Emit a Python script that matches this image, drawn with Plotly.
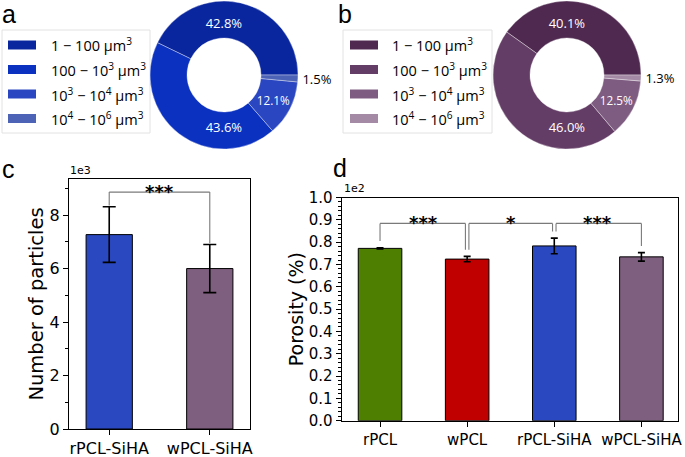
import plotly.graph_objects as go

# ---------------- data ----------------
size_classes = ["1 − 100 μm<sup>3</sup>",
                "100 − 10<sup>3</sup> μm<sup>3</sup>",
                "10<sup>3</sup> − 10<sup>4</sup> μm<sup>3</sup>",
                "10<sup>4</sup> − 10<sup>6</sup> μm<sup>3</sup>"]
pct_rpcl_siha = [42.8, 43.6, 12.1, 1.5]
pct_wpcl_siha = [40.1, 46.0, 12.5, 1.3]
colors_blue = ["#0a269e", "#0b31c0", "#2b46c1", "#4d64b6"]
colors_purple = ["#4f2950", "#643d66", "#7e5b80", "#a48aa5"]

particle_groups = ["rPCL-SiHA", "wPCL-SiHA"]
particle_mean = [7.27, 6.00]      # x 1e3
particle_err = [1.04, 0.90]
particle_colors = ["#2a48c0", "#7f5f7f"]
particle_sig = [(0, 1, "***", 8.86)]

porosity_groups = ["rPCL", "wPCL", "rPCL-SiHA", "wPCL-SiHA"]
porosity_mean = [0.772, 0.724, 0.783, 0.734]   # x 1e2
porosity_err = [0.003, 0.012, 0.035, 0.019]
porosity_colors = ["#4f7f00", "#c00000", "#2a48c0", "#7f5f7f"]
porosity_sig = [(0, 1, "***", 0.884), (1, 2, "*", 0.884), (2, 3, "***", 0.884)]

# ---------------- helpers ----------------
W, H = 685, 457
def fx(px): return px / W
def fy(py): return 1 - py / H

TICK_FONT = "DejaVu Sans"
PIE_FONT = "Open Sans"

fig = go.Figure()

# ---------------- donuts ----------------
# first slice starts at 3 o'clock and runs counterclockwise (plotly's rotation
# marks the clockwise-most edge of the first slice in counterclockwise mode)
for vals, cols, (x0, x1) in [(pct_rpcl_siha, colors_blue, (150, 298)),
                             (pct_wpcl_siha, colors_purple, (493, 641))]:
    rot = 90 - 360 * vals[0] / sum(vals)
    fig.add_trace(go.Pie(
        values=vals, labels=size_classes, hole=0.5, sort=False,
        direction="counterclockwise", rotation=rot,
        marker=dict(colors=cols, line=dict(color="rgba(255,255,255,0.6)", width=0.6)),
        texttemplate="%{value:.1f}%",
        textposition=["inside", "inside", "inside", "outside"],
        insidetextorientation="horizontal",
        insidetextfont=dict(family=PIE_FONT, size=13, color="white"),
        outsidetextfont=dict(family=PIE_FONT, size=13, color="black"),
        domain=dict(x=[fx(x0), fx(x1)], y=[fy(149), fy(1)]),
        showlegend=False, hoverinfo="label+percent"))

# manual legends
shapes = []
annotations = []
for cols, (bx0, bx1, sx0, sx1, tx) in [(colors_blue, (2, 150, 8, 36, 49)),
                                       (colors_purple, (343, 492, 350, 378, 390))]:
    shapes.append(dict(type="rect", xref="paper", yref="paper",
                       x0=fx(bx0), x1=fx(bx1), y0=fy(133), y1=fy(30),
                       line=dict(color="#e2e2e2", width=1), fillcolor="white", layer="below"))
    for i, (lab, c) in enumerate(zip(size_classes, cols)):
        yc = 45 + 24.5 * i
        shapes.append(dict(type="rect", xref="paper", yref="paper",
                           x0=fx(sx0), x1=fx(sx1), y0=fy(yc + 4.5), y1=fy(yc - 4.5),
                           line=dict(width=0), fillcolor=c))
        annotations.append(dict(text=lab, xref="paper", yref="paper", x=fx(tx), y=fy(yc),
                                xanchor="left", yanchor="middle", showarrow=False,
                                font=dict(family=PIE_FONT, size=14.5, color="black")))

# ---------------- panel c ----------------
fig.add_trace(go.Bar(
    x=particle_groups, y=particle_mean, width=0.46,
    marker=dict(color=particle_colors, line=dict(color="black", width=1)),
    error_y=dict(type="data", array=particle_err, color="black", thickness=1.6, width=6.5),
    xaxis="x", yaxis="y", showlegend=False))

# ---------------- panel d ----------------
fig.add_trace(go.Bar(
    x=porosity_groups, y=porosity_mean, width=0.5,
    marker=dict(color=porosity_colors, line=dict(color="black", width=1)),
    error_y=dict(type="data", array=porosity_err, color="black", thickness=1.6, width=3.5),
    xaxis="x2", yaxis="y2", showlegend=False))

# significance brackets
def add_brackets(sig, means, errs, xr, yr, leg_gap, offset, star_size, yshift):
    for (i, j, lab, yb) in sig:
        xi = i + (offset if any(s[1] == i for s in sig) else 0)
        xj = j - (offset if any(s[0] == j for s in sig) else 0)
        yi = means[i] + errs[i] + leg_gap
        yj = means[j] + errs[j] + leg_gap
        for (xa, ya, xb, yb2) in [(xi, yi, xi, yb), (xi, yb, xj, yb), (xj, yb, xj, yj)]:
            shapes.append(dict(type="line", xref=xr, yref=yr, x0=xa, y0=ya, x1=xb, y1=yb2,
                               line=dict(color="#7a7a7a", width=1.1)))
        annotations.append(dict(text="<b>" + lab + "</b>", xref=xr, yref=yr, x=(i + j) / 2, y=yb,
                                xanchor="center", yanchor="middle", yshift=yshift,
                                showarrow=False,
                                font=dict(family=TICK_FONT, size=star_size, color="black")))

add_brackets(particle_sig, particle_mean, particle_err, "x", "y", 0.05, 0.0, 18, 1)
add_brackets(porosity_sig, porosity_mean, porosity_err, "x2", "y2", 0.03, 0.02, 18, 1)

# offset texts
annotations.append(dict(text="1e3", xref="paper", yref="paper", x=fx(68), y=fy(179),
                        xanchor="left", yanchor="bottom", showarrow=False,
                        font=dict(family=TICK_FONT, size=11, color="black")))
annotations.append(dict(text="1e2", xref="paper", yref="paper", x=fx(342), y=fy(197),
                        xanchor="left", yanchor="bottom", showarrow=False,
                        font=dict(family=TICK_FONT, size=11, color="black")))

# panel letters
for lab, px, py in [("a", 0, 14), ("b", 336, 14), ("c", 0, 169), ("d", 331, 168)]:
    annotations.append(dict(text=lab, xref="paper", yref="paper", x=fx(px), y=fy(py),
                            xanchor="left", yanchor="middle", showarrow=False,
                            font=dict(family="Liberation Sans", size=25, color="black")))

axis_common = dict(showline=True, mirror=True, linecolor="black", linewidth=1.2,
                   ticks="outside", tickcolor="black", ticklen=5, tickwidth=1,
                   showgrid=False, zeroline=False, automargin=False)

fig.update_layout(
    template="none",
    width=W, height=H, margin=dict(l=0, r=0, t=0, b=0, autoexpand=False),
    paper_bgcolor="white", plot_bgcolor="white",
    font=dict(family=TICK_FONT, color="black"),
    shapes=shapes, annotations=annotations,
    xaxis=dict(domain=[fx(69), fx(250)], anchor="y", range=[-0.4, 1.4],
               tickfont=dict(size=16), **axis_common),
    yaxis=dict(domain=[fy(429), fy(179)], anchor="x", range=[0, 9.35],
               dtick=2, tickfont=dict(size=16),
               minor=dict(dtick=1, ticklen=3, ticks="outside", tickcolor="black"),
               title=dict(text="Number of particles", font=dict(size=19.5), standoff=0),
               **axis_common),
    xaxis2=dict(domain=[fx(341.7), fx(678)], anchor="y2", range=[-0.44, 3.42],
                tickfont=dict(size=15), **axis_common),
    yaxis2=dict(domain=[fy(420.7), fy(197.5)], anchor="x2", range=[0, 1.0],
                dtick=0.1, tickformat=".1f", tickfont=dict(size=15),
                minor=dict(dtick=0.02, ticklen=3, ticks="outside", tickcolor="black"),
                title=dict(text="Porosity (%)", font=dict(size=19), standoff=0),
                **axis_common),
)

fig.write_html("out.html", config={"displayModeBar": False},
               post_script="document.body.style.margin='0px';document.body.style.overflow='hidden';")
